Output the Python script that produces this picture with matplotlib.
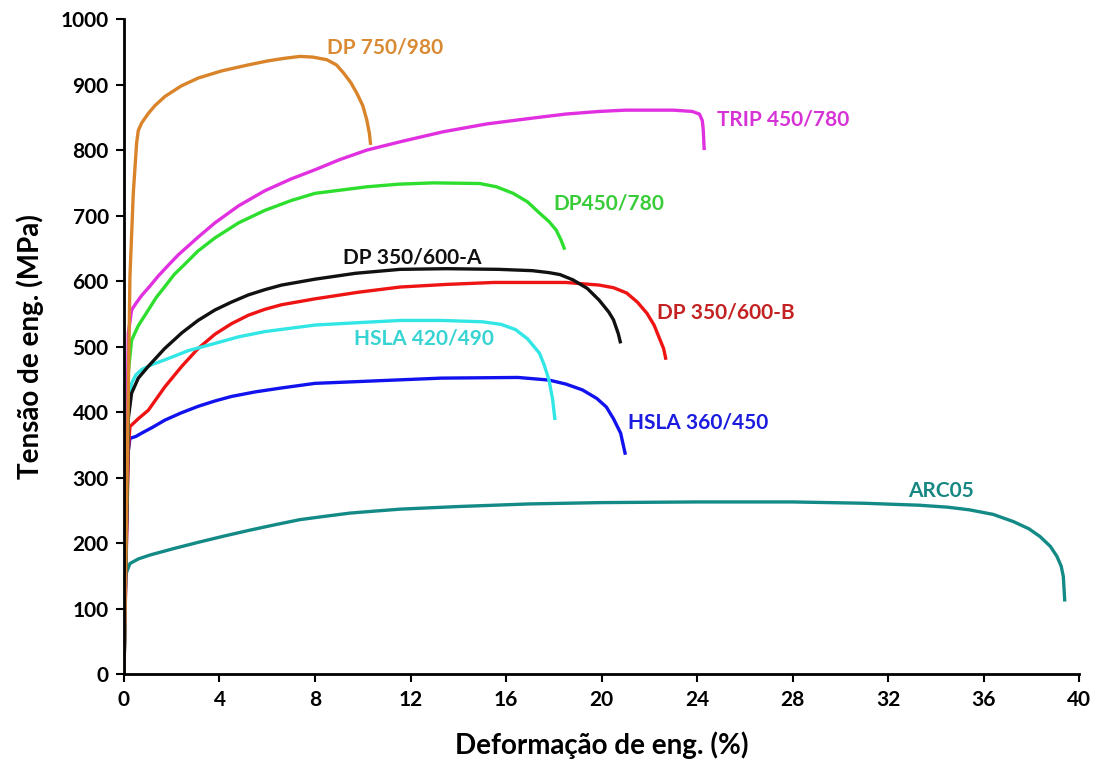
import numpy as np
import matplotlib.pyplot as plt

plt.rcParams['font.family'] = ['Lato', 'DejaVu Sans']

# strain (%) / stress (MPa)
arc05_x = [0, 0.02, 0.04, 0.25, 0.6, 1.09, 2.1, 3.18, 4.2, 5.28, 6.3, 7.37, 8.4, 9.47, 10.5, 11.56, 14, 17, 20, 24, 28, 31,
           33.3, 34.5, 35.4, 36.4, 37.25, 37.9, 38.37, 38.8, 39.07, 39.25, 39.34, 39.4]
arc05_y = [0, 60, 149, 169, 176, 182, 192, 202, 211, 220, 228, 236, 241, 246, 249, 252, 256, 260, 262, 263, 263, 261,
           258, 255, 251, 244, 233, 222, 210, 195, 180, 165, 149, 111]

hsla360_x = [0, 0.15, 0.18, 0.25, 0.5, 0.74, 1.2, 1.72, 2.4, 3.11, 3.8, 4.5, 5.5, 6.6, 8.0, 10, 13.3, 16.5, 17.8, 18.5,
             19.2, 19.8, 20.2, 20.5, 20.8, 21.0]
hsla360_y = [0, 300, 340, 360, 363, 368, 377, 388, 399, 409, 417, 424, 431, 437, 444, 447, 452, 453, 449, 443,
             434, 421, 408, 390, 368, 335]

dp350b_x = [0, 0.18, 0.25, 0.6, 1.02, 1.35, 1.72, 2.42, 3.1, 3.81, 4.5, 5.21, 5.9, 6.6, 8.0, 9.8, 11.56, 13.5, 15.5, 18.5,
            19.9, 20.5, 21.05, 21.5, 21.9, 22.2, 22.4, 22.6, 22.7]
dp350b_y = [0, 340, 378, 390, 403, 420, 439, 470, 497, 519, 535, 548, 557, 564, 573, 583, 591, 595, 598, 598,
            594, 590, 582, 568, 551, 533, 515, 497, 480]

hsla420_x = [0, 0.18, 0.32, 0.5, 0.74, 1.2, 1.72, 2.7, 3.81, 4.8, 5.9, 8.0, 10, 11.56, 13.3, 15.0, 15.8, 16.4, 16.9,
             17.4, 17.6, 17.8, 17.95, 18.05]
hsla420_y = [0, 400, 444, 457, 465, 473, 480, 494, 505, 515, 523, 533, 537, 540, 540, 538, 534, 526, 512,
             490, 472, 449, 420, 388]

dp350a_x = [0, 0.18, 0.32, 0.6, 1.02, 1.7, 2.42, 3.1, 3.81, 4.5, 5.21, 5.9, 6.6, 8.0, 9.7, 11.56, 13.5, 15.7, 17.1,
            17.8, 18.26, 18.8, 19.4, 19.9, 20.3, 20.5, 20.7, 20.8]
dp350a_y = [0, 390, 429, 452, 470, 497, 521, 540, 556, 568, 579, 587, 594, 603, 612, 618, 619, 618, 616,
            613, 610, 602, 589, 571, 553, 541, 520, 505]

dp450_x = [0, 0.18, 0.32, 0.6, 1.02, 1.35, 1.72, 2.1, 2.55, 3.1, 3.81, 4.8, 5.9, 7.0, 8.0, 10.17, 11.5, 12.96, 14.9,
           15.6, 16.3, 16.9, 17.4, 17.8, 18.1, 18.3, 18.46]
dp450_y = [0, 460, 510, 532, 556, 575, 592, 610, 626, 646, 666, 689, 708, 723, 734, 744, 748, 750, 749,
           744, 734, 721, 704, 691, 678, 663, 648]

trip_x = [0, 0.18, 0.32, 0.5, 0.74, 1.1, 1.44, 1.85, 2.27, 3.1, 3.81, 4.8, 5.9, 7.0, 8.0, 9.0, 10.17, 11.6, 13.37,
          15.2, 17.14, 18.5, 19.9, 21.0, 22.0, 23.0, 23.8, 24.1, 24.22, 24.26, 24.3]
trip_y = [0, 520, 556, 566, 578, 593, 608, 624, 640, 667, 689, 715, 738, 756, 770, 785, 800, 813, 828,
          840, 849, 855, 859, 861, 861, 861, 859, 855, 845, 831, 800]

dp750_x = [0, 0.17, 0.25, 0.39, 0.53, 0.6, 0.75, 1.02, 1.3, 1.72, 2.4, 3.11, 4.1, 5.2, 6.0, 6.7, 7.37, 7.9, 8.49, 8.9,
           9.19, 9.5, 9.75, 10.0, 10.17, 10.28, 10.33]
dp750_y = [0, 400, 607, 734, 811, 830, 842, 856, 868, 882, 898, 910, 921, 930, 936, 940, 943, 942, 938, 930,
           918, 903, 887, 868, 846, 825, 808]

series = [
    ('ARC05', arc05_x, arc05_y, '#138a86', '#178783', 32.85, 279),
    ('HSLA 360/450', hsla360_x, hsla360_y, '#1212ee', '#1c1ce0', 21.12, 384),
    ('DP 350/600-B', dp350b_x, dp350b_y, '#ee1414', '#c42222', 22.31, 552),
    ('HSLA 420/490', hsla420_x, hsla420_y, '#33e6e6', '#38d4d4', 9.63, 513),
    ('DP 350/600-A', dp350a_x, dp350a_y, '#111111', '#111111', 9.19, 636),
    ('DP450/780', dp450_x, dp450_y, '#2ede2e', '#38cc38', 17.98, 719),
    ('TRIP 450/780', trip_x, trip_y, '#e030e0', '#d633d6', 24.82, 846),
    ('DP 750/980', dp750_x, dp750_y, '#d9832a', '#d98a33', 8.49, 956),
]

fig = plt.figure(figsize=(11, 7.69), dpi=100)
ax = fig.add_axes([0.1127, 0.1232, 0.8683, 0.852])

for name, xs, ys, c, tc, lx, ly in series:
    ax.plot(xs, ys, color=c, lw=2.4, solid_capstyle='butt', solid_joinstyle='round')
    ax.text(lx, ly, name, color=tc, fontsize=15, fontweight='bold', ha='left', va='center')

ax.set_xlim(0, 40)
ax.set_ylim(0, 1000)
ax.set_xticks(np.arange(0, 41, 4))
ax.set_yticks(np.arange(0, 1001, 100))

for s in ['top', 'right']:
    ax.spines[s].set_visible(False)
for s in ['left', 'bottom']:
    ax.spines[s].set_linewidth(2)
ax.tick_params(direction='out', length=6, width=1.5, labelsize=15, pad=5)
for lab in ax.get_xticklabels() + ax.get_yticklabels():
    lab.set_fontweight('bold')

ax.set_xlabel('Deformação de eng. (%)', fontsize=20, fontweight='bold', labelpad=16)
ax.set_ylabel('Tensão de eng. (MPa)', fontsize=20, fontweight='bold', labelpad=12)

fig.savefig('out.png', dpi=100)
